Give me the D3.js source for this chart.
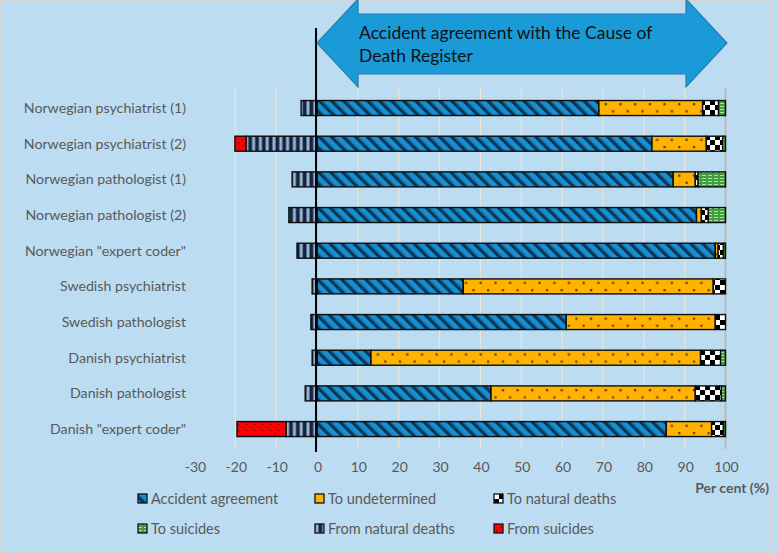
<!DOCTYPE html>
<html><head><meta charset="utf-8">
<script src="https://cdn.jsdelivr.net/npm/d3@7"></script>
<style>html,body{margin:0;padding:0;background:#bcdcf1;}svg{display:block;}</style>
</head><body>
<svg id="c" width="778" height="554"></svg>
<script>
const categories = ['Norwegian psychiatrist (1)','Norwegian psychiatrist (2)','Norwegian pathologist (1)','Norwegian pathologist (2)','Norwegian "expert coder"','Swedish psychiatrist','Swedish pathologist','Danish psychiatrist','Danish pathologist','Danish "expert coder"'];
const accidentAgreement = [69, 82, 87.2, 92.9, 97.5, 35.8, 61, 13.2, 42.6, 85.5];
const toUndetermined    = [25.4, 13.3, 5.4, 1.2, 0.7, 61.2, 36.5, 80.7, 50, 11.1];
const toNaturalDeaths   = [3.9, 4, 0.7, 1.7, 1.3, 3, 2.5, 4.9, 6.4, 2.9];
const toSuicides        = [1.7, 0.7, 6.7, 4.2, 0.5, 0, 0, 1.2, 1, 0.5];
const fromNaturalDeaths = [-3.9, -17.4, -6.1, -6.9, -4.9, -1.2, -1.5, -1.2, -2.9, -7.6];
const fromSuicides      = [0, -2.7, 0, 0, 0, 0, 0, 0, 0, -12];
const seriesNames = ['Accident agreement','To undetermined','To natural deaths','To suicides','From natural deaths','From suicides'];
const xTicks = [-30,-20,-10,0,10,20,30,40,50,60,70,80,90,100];
const arrowLines = ['Accident agreement with the Cause of','Death Register'];
const xAxisTitle = 'Per cent (%)';

const svg = d3.select('#c');
const W = 778, H = 554;
const font = 'Lato, "Open Sans", sans-serif';
svg.append('rect').attr('width',W).attr('height',H).attr('fill','#bcdcf1');
svg.append('rect').attr('x',1).attr('y',1).attr('width',770).attr('height',551)
  .attr('fill','none').attr('stroke','#d4d4d4').attr('stroke-width',2);

// patterns
const defs = svg.append('defs');
const keys = ['acc','und','tnat','tsui','fnat','fsui'];
let p = defs.append('pattern').attr('id','p-acc').attr('patternUnits','userSpaceOnUse')
  .attr('width',8.5).attr('height',8.5).attr('patternTransform','rotate(-45)');
p.append('rect').attr('width',8.5).attr('height',8.5).attr('fill','#1690d2');
p.append('rect').attr('x',0).attr('width',3).attr('height',8.5).attr('fill','#0c3654');
p.append('rect').attr('x',3).attr('width',1).attr('height',8.5).attr('fill','#125f90');
p = defs.append('pattern').attr('id','p-und').attr('patternUnits','userSpaceOnUse')
  .attr('width',14.7).attr('height',14.3).attr('y',2);
p.append('rect').attr('width',14.7).attr('height',14.3).attr('fill','#ffb300');
p.append('rect').attr('x',2).attr('y',1).attr('width',2.2).attr('height',2.2).attr('fill','#5a3e08');
p.append('rect').attr('x',9.3).attr('y',8.1).attr('width',2.2).attr('height',2.2).attr('fill','#5a3e08');
p = defs.append('pattern').attr('id','p-tnat').attr('patternUnits','userSpaceOnUse')
  .attr('width',10).attr('height',10);
p.append('rect').attr('width',10).attr('height',10).attr('fill','#ffffff');
p.append('rect').attr('width',5).attr('height',5).attr('fill','#000');
p.append('rect').attr('x',5).attr('y',5).attr('width',5).attr('height',5).attr('fill','#000');
p = defs.append('pattern').attr('id','p-tsui').attr('patternUnits','userSpaceOnUse')
  .attr('width',6).attr('height',3);
p.append('rect').attr('width',6).attr('height',3).attr('fill','#3f9f3f');
p.append('rect').attr('x',0).attr('y',1).attr('width',4).attr('height',1).attr('fill','#a6e6a0');
p = defs.append('pattern').attr('id','p-fnat').attr('patternUnits','userSpaceOnUse')
  .attr('width',6.8).attr('height',10);
p.append('rect').attr('width',6.8).attr('height',10).attr('fill','#0f2544');
p.append('rect').attr('x',0.5).attr('width',3).attr('height',10).attr('fill','#9fb2cc');
p = defs.append('pattern').attr('id','p-fsui').attr('patternUnits','userSpaceOnUse')
  .attr('width',8).attr('height',6);
p.append('rect').attr('width',8).attr('height',6).attr('fill','#ff0000');
p.append('rect').attr('x',2).attr('y',1).attr('width',1.2).attr('height',1.2).attr('fill','#7a0000');
p.append('rect').attr('x',6).attr('y',4).attr('width',1.2).attr('height',1.2).attr('fill','#7a0000');

const x = d3.scaleLinear().domain([-30,100]).range([194.5,725.5]);
const y = d3.scaleBand().domain(categories).range([90.2,446.9]).paddingInner(0.58).paddingOuter(0.29);

svg.append('g').selectAll('line').data(xTicks.filter(t=>t>-30 && t!==0)).join('line')
  .attr('x1',d=>x(d)).attr('x2',d=>x(d)).attr('y1',88).attr('y2',449)
  .attr('stroke',d=>d===100?'#b9b9b9':'#e9e4d6').attr('stroke-width',d=>d===100?2:1.3);

const rows = categories.map((c,i)=>({cat:c, acc:accidentAgreement[i], und:toUndetermined[i], tnat:toNaturalDeaths[i], tsui:toSuicides[i], fnat:fromNaturalDeaths[i], fsui:fromSuicides[i]}));
const stacked = d3.stack().keys(keys).offset(d3.stackOffsetDiverging)(rows);

const gBars = svg.append('g');
stacked.forEach(s=>{
  gBars.append('g').selectAll('rect').data(s.filter(d=>Math.abs(d[1]-d[0])>0.01)).join('rect')
    .attr('x',d=>x(Math.min(d[0],d[1])))
    .attr('width',d=>Math.abs(x(d[1])-x(d[0])))
    .attr('y',d=>y(d.data.cat)).attr('height',y.bandwidth())
    .attr('fill','url(#p-'+s.key+')')
    .attr('stroke','#0d0d0d').attr('stroke-width',1.4);
});

svg.append('line').attr('x1',x(0)-1).attr('x2',x(0)-1).attr('y1',28).attr('y2',452)
  .attr('stroke','#000').attr('stroke-width',2);

svg.append('g').selectAll('text').data(categories).join('text')
  .attr('x',186).attr('y',d=>y(d)+y.bandwidth()/2).attr('dy','0.35em')
  .attr('text-anchor','end').attr('font-family',font).attr('font-size',14.2).attr('fill','#595959')
  .text(d=>d);

svg.append('g').selectAll('text').data(xTicks).join('text')
  .attr('x',d=>x(d)+1).attr('y',467).attr('dy','0.35em').attr('text-anchor','middle')
  .attr('font-family',font).attr('font-size',14).attr('fill','#595959').text(d=>d);
svg.append('text').attr('x',769).attr('y',488).attr('dy','0.35em').attr('text-anchor','end')
  .attr('font-family',font).attr('font-size',14).attr('font-weight','bold').attr('fill','#595959').text(xAxisTitle);

const legCols = [138,315,494], legRows = [499,529];
const leg = svg.append('g').selectAll('g').data(keys).join('g')
  .attr('transform',(d,i)=>`translate(${legCols[i%3]},${legRows[Math.floor(i/3)]})`);
leg.append('rect').attr('x',0).attr('y',-5).attr('width',9).attr('height',9)
  .attr('fill',d=>'url(#p-'+d+')').attr('stroke','#111').attr('stroke-width',1.3);
leg.append('text').attr('x',13).attr('y',0).attr('dy','0.35em').attr('font-family',font)
  .attr('font-size',14.5).attr('fill','#595959').text((d,i)=>seriesNames[i]);

const ax0 = x(0), ax1 = x(100)+1.5, headW = 41, midY = 43, bodyT = 14, bodyB = 74, headT = -1, headB = 87;
const arrowPath = `M${ax0},${midY} L${ax0+headW},${headT} L${ax0+headW},${bodyT} L${ax1-headW},${bodyT} L${ax1-headW},${headT} L${ax1},${midY} L${ax1-headW},${headB} L${ax1-headW},${bodyB} L${ax0+headW},${bodyB} L${ax0+headW},${headB} Z`;
svg.append('path').attr('d',arrowPath).attr('fill','#1b9ad8').attr('stroke','#2a7db4').attr('stroke-width',1.2);
svg.append('g').selectAll('text').data(arrowLines).join('text')
  .attr('x',ax0+42).attr('y',(d,i)=>39+i*23).attr('font-family',font).attr('font-size',17.5)
  .attr('fill','#111').text(d=>d);
</script>
</body></html>
